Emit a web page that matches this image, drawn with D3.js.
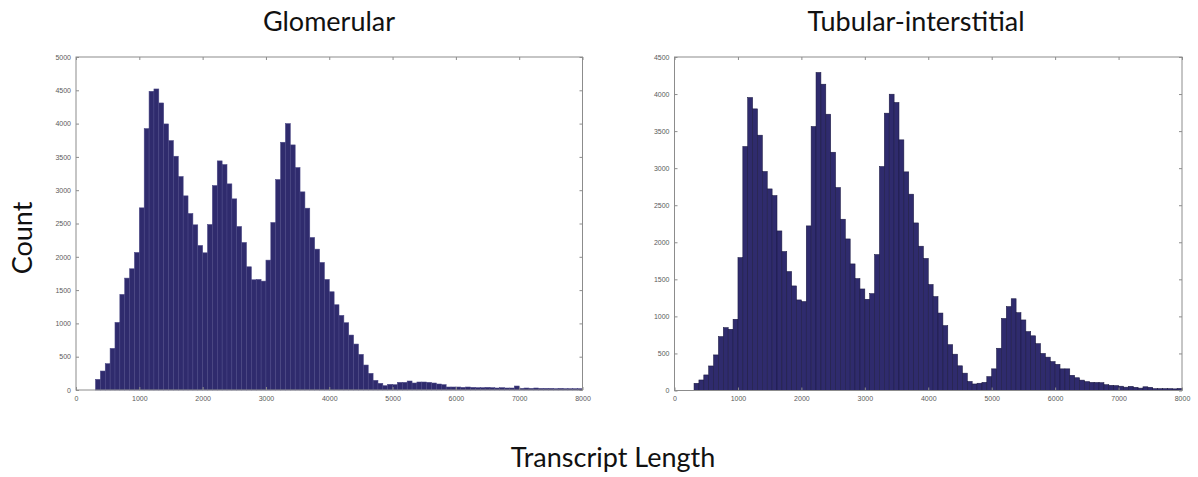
<!DOCTYPE html>
<html>
<head>
<meta charset="utf-8">
<script src="https://cdn.jsdelivr.net/npm/d3@7"></script>
<style>
  body { margin: 0; background: #ffffff; }
  svg { display: block; }
</style>
</head>
<body>
<svg id="chart" width="1198" height="477"></svg>
<script>
// Histogram bins: 100 equal bins from the shortest transcript up to 8000 nt
const binStart = 308;
const binWidth = 76.92;

// Counts per bin, glomerular samples
const glomerularCounts = [
  160, 285, 395, 625, 1015, 1435, 1680, 1820, 2065, 2735,
  3925, 4485, 4520, 4310, 3995, 3745, 3510, 3205, 2915, 2650,
  2480, 2170, 2060, 2485, 3070, 3440, 3385, 3095, 2870, 2455,
  2215, 1850, 1655, 1660, 1635, 1950, 2515, 3160, 3720, 4000,
  3680, 3340, 2975, 2730, 2290, 2115, 1915, 1660, 1475, 1280,
  1120, 1010, 825, 690, 535, 375, 250, 145, 100, 65,
  85, 80, 115, 115, 135, 105, 120, 120, 115, 105,
  90, 80, 45, 45, 45, 40, 45, 40, 35, 35,
  40, 35, 30, 35, 30, 30, 60, 25, 30, 25,
  30, 25, 25, 25, 20, 25, 20, 20, 20, 20
];

// Counts per bin, tubular-interstitial samples
const tubularCounts = [
  97, 142, 210, 331, 480, 727, 848, 826, 961, 1793,
  3292, 3953, 3800, 3445, 2955, 2720, 2630, 2153, 1875, 1605,
  1411, 1222, 1200, 2221, 3562, 4291, 4133, 3728, 3215, 2738,
  2311, 2045, 1708, 1510, 1370, 1231, 1307, 1834, 3022, 3742,
  3998, 3886, 3382, 2950, 2649, 2261, 1947, 1782, 1430, 1267,
  1045, 875, 618, 490, 333, 234, 122, 88, 98, 110,
  187, 292, 570, 972, 1132, 1238, 1050, 952, 795, 738,
  632, 500, 450, 390, 353, 292, 292, 205, 172, 140,
  120, 110, 108, 105, 78, 70, 66, 58, 45, 56,
  43, 32, 50, 43, 25, 25, 25, 25, 22, 28
];

const xTicks = [0, 1000, 2000, 3000, 4000, 5000, 6000, 7000, 8000];
const glomerularYTicks = [0, 500, 1000, 1500, 2000, 2500, 3000, 3500, 4000, 4500, 5000];
const tubularYTicks = [0, 500, 1000, 1500, 2000, 2500, 3000, 3500, 4000, 4500];
const panelTitles = ["Glomerular", "Tubular-interstitial"];
const yAxisLabel = "Count";
const xAxisLabel = "Transcript Length";

const svg = d3.select("#chart");
const barFill = "#2f2b6d";
const frameColor = "#8c8c8c";
const tickTextColor = "#5a5a5a";
const titleFont = "Lato, 'Open Sans', sans-serif";
const titleSize = "27px";
const tickFont = "'Liberation Sans', Arial, sans-serif";

function drawPanel(p) {
  const x = d3.scaleLinear().domain([0, 8000]).range([p.left, p.right]);
  const y = d3.scaleLinear().domain([0, p.yMax]).range([p.bottom, p.top]);
  const g = svg.append("g");

  // bars
  g.append("g")
    .selectAll("rect")
    .data(p.counts)
    .join("rect")
    .attr("x", (d, i) => x(binStart + i * binWidth))
    .attr("width", x(binWidth) - x(0))
    .attr("y", d => y(d))
    .attr("height", d => y(0) - y(d))
    .attr("fill", barFill)
    .attr("stroke", p.edge)
    .attr("stroke-width", 0.55);

  const tickLen = 3;

  // bottom axis with inward ticks
  const bottomAxis = d3.axisBottom(x).tickValues(xTicks).tickSizeInner(-tickLen).tickSizeOuter(0)
    .tickPadding(6).tickFormat(d3.format("d"));
  const gb = g.append("g").attr("transform", `translate(0,${p.bottom})`).call(bottomAxis);

  // left axis with inward ticks
  const leftAxis = d3.axisLeft(y).tickValues(p.yTicks).tickSizeInner(-tickLen).tickSizeOuter(0)
    .tickPadding(5).tickFormat(d3.format("d"));
  const gl = g.append("g").attr("transform", `translate(${p.left},0)`).call(leftAxis);

  // top and right axes: ticks only
  const gt = g.append("g").attr("transform", `translate(0,${p.top})`)
    .call(d3.axisTop(x).tickValues(xTicks).tickSizeInner(-tickLen).tickSizeOuter(0).tickFormat(""));
  const gr = g.append("g").attr("transform", `translate(${p.right},0)`)
    .call(d3.axisRight(y).tickValues(p.yTicks).tickSizeInner(-tickLen).tickSizeOuter(0).tickFormat(""));

  [gb, gl, gt, gr].forEach(a => {
    a.select(".domain").remove();
    a.selectAll(".tick line").attr("stroke", frameColor).attr("stroke-width", 1);
    a.selectAll(".tick text")
      .attr("fill", tickTextColor)
      .style("font-family", tickFont)
      .style("font-size", "7px");
  });

  // frame
  g.append("rect")
    .attr("x", p.left).attr("y", p.top)
    .attr("width", p.right - p.left).attr("height", p.bottom - p.top)
    .attr("fill", "none")
    .attr("stroke", frameColor)
    .attr("stroke-width", 1);

  // panel title
  svg.append("text")
    .attr("x", p.titleX).attr("y", 31)
    .attr("text-anchor", "middle")
    .style("font-family", titleFont)
    .style("font-size", titleSize)
    .attr("fill", "#111")
    .text(p.title);
}

drawPanel({
  left: 76, right: 582.5, top: 57, bottom: 390,
  yMax: 5000, yTicks: glomerularYTicks, counts: glomerularCounts,
  title: panelTitles[0], titleX: 329, edge: "#4a4785"
});

drawPanel({
  left: 674.5, right: 1182, top: 57, bottom: 390.5,
  yMax: 4500, yTicks: tubularYTicks, counts: tubularCounts,
  title: panelTitles[1], titleX: 916, edge: "#1b1942"
});

// shared axis labels
svg.append("text")
  .attr("transform", "translate(32,238) rotate(-90)")
  .attr("text-anchor", "middle")
  .style("font-family", titleFont)
  .style("font-size", titleSize)
  .attr("fill", "#111")
  .text(yAxisLabel);

svg.append("text")
  .attr("x", 613).attr("y", 467)
  .attr("text-anchor", "middle")
  .style("font-family", titleFont)
  .style("font-size", titleSize)
  .attr("fill", "#111")
  .text(xAxisLabel);
</script>
</body>
</html>
